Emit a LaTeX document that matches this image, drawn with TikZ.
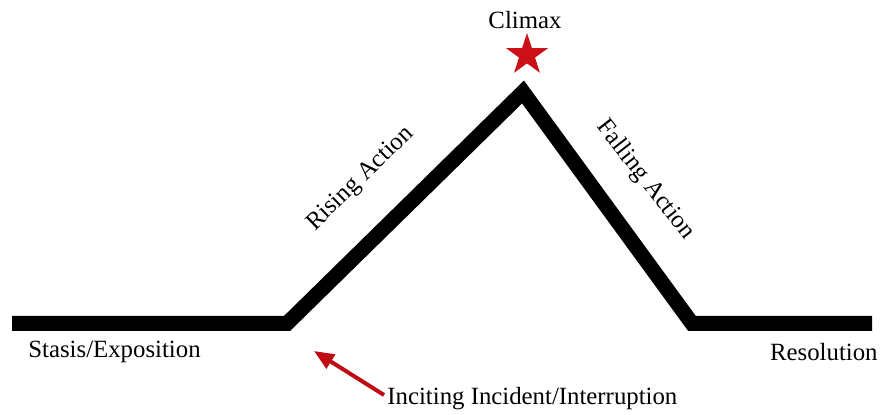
\documentclass[tikz,border=0pt]{standalone}
\usepackage{fontspec}
\setmainfont{Liberation Serif}
\usetikzlibrary{shapes.geometric,arrows.meta}
\definecolor{starred}{RGB}{204,16,24}
\definecolor{arrowred}{RGB}{192,10,20}
\begin{document}
\begin{tikzpicture}[x=0.5pt,y=-0.5pt,
  lbl/.style={font=\fontsize{12.4}{14}\selectfont, inner sep=0pt},
  plot/.style={line width=7.5pt, line join=miter, line cap=butt},
  pointer/.style={arrowred, line width=2pt, -{Triangle[length=10pt,width=8pt]}}]
\useasboundingbox (0,0) rectangle (883,415);
\coordinate (a) at (12,323.5);
\coordinate (b) at (287,323.5);
\coordinate (c) at (523,92);
\coordinate (d) at (692,323.5);
\coordinate (e) at (872,323.5);
\draw[plot] (a) -- (b) -- (c) -- (d) -- (e);
\node[star, star points=5, star point ratio=2.618, minimum size=22pt, inner sep=0pt, fill=starred] (star) at (527,55) {};
\node[lbl] (climax) at (525,20) {Climax};
\node[lbl, anchor=west] (stasis) at (28,352) {Stasis/Exposition};
\node[lbl, anchor=east] (res) at (878,352) {Resolution};
\node[lbl, anchor=west] (inc) at (387,399) {Inciting Incident/Interruption};
\node[lbl, rotate=44] (rise) at (361,179) {Rising Action};
\node[lbl, rotate=-52] (fall) at (645,180) {Falling Action};
\coordinate (tip) at (314,351);
\draw[pointer] (inc.west) ++(-3,-4) coordinate (tail) -- (tip);
\end{tikzpicture}
\end{document}
